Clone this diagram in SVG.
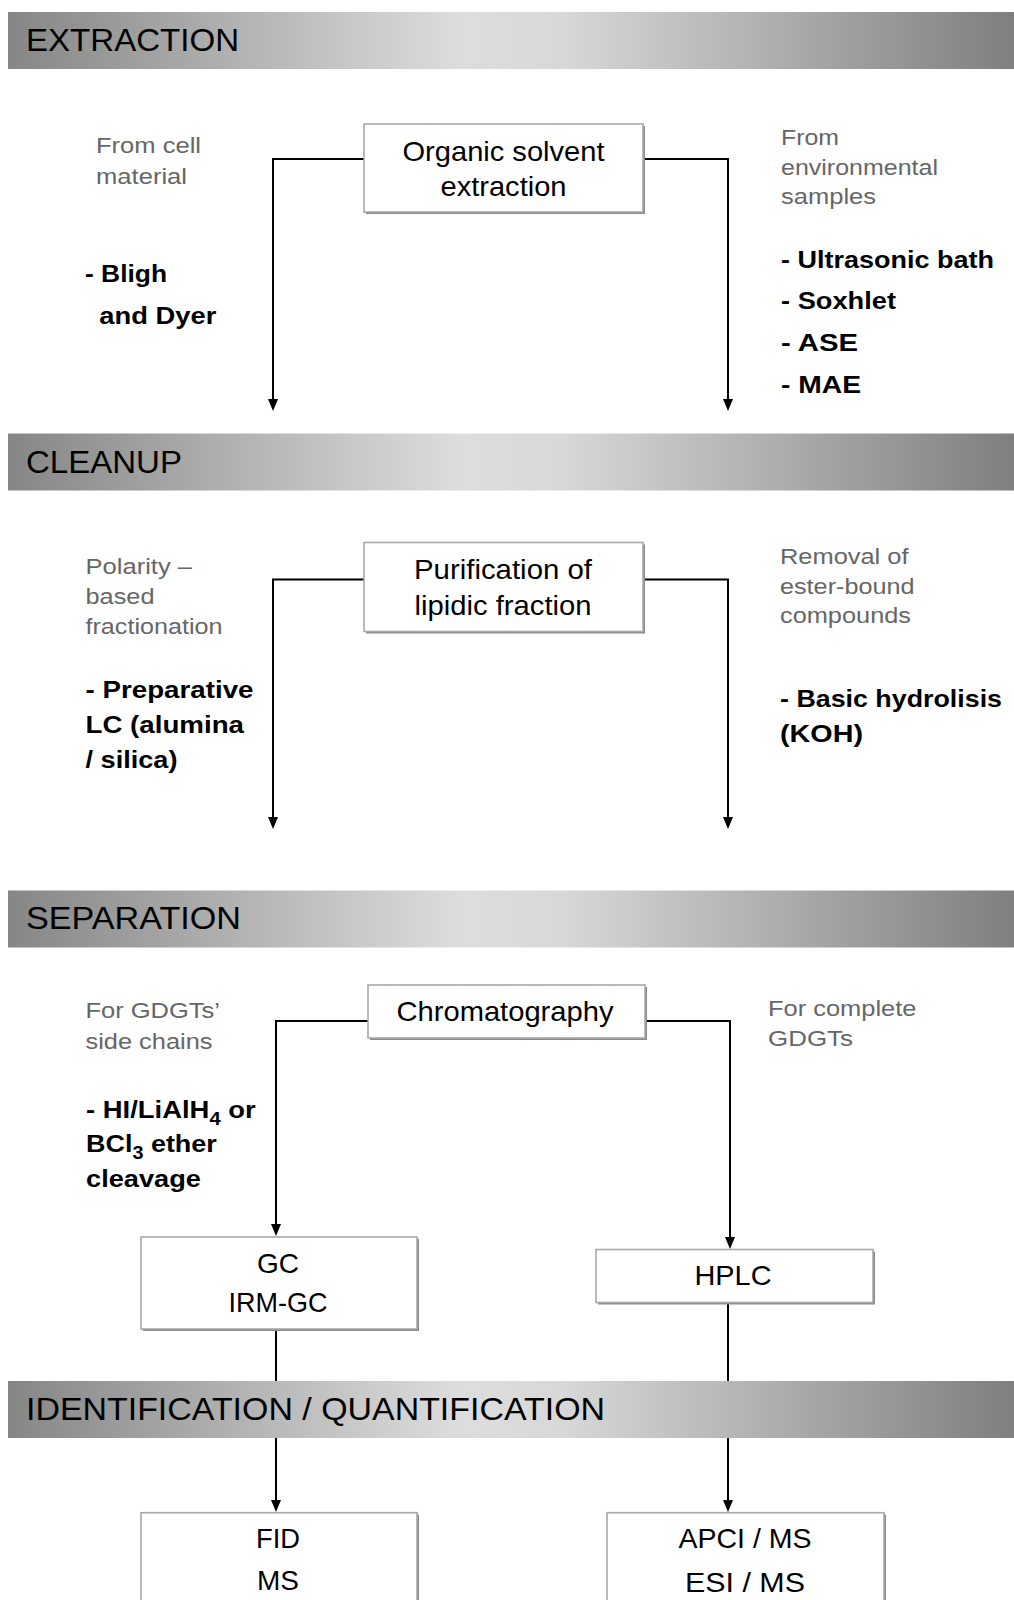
<svg xmlns="http://www.w3.org/2000/svg" width="1014" height="1600" viewBox="0 0 1014 1600">
<style>
text{font-family:"Liberation Sans",Arial,sans-serif}
.hdr{font-size:32px;fill:#000}
.box{fill:#fff;stroke:#a8a8a8;stroke-width:1.6}
.shd{fill:#8a8a8a}
.bt{font-size:27.5px;fill:#000;text-anchor:middle}
.gl{font-size:22.5px;fill:#666}
.bl{font-size:24.5px;font-weight:bold;fill:#000}
.con{fill:none;stroke:#000;stroke-width:2;marker-end:url(#arr)}
</style>
<defs>
<linearGradient id="band" x1="0" y1="0" x2="1" y2="0">
<stop offset="0" stop-color="#868686"/>
<stop offset="0.45" stop-color="#dddddd"/>
<stop offset="0.55" stop-color="#d8d8d8"/>
<stop offset="1" stop-color="#7f7f7f"/>
</linearGradient>
<marker id="arr" markerUnits="userSpaceOnUse" markerWidth="12" markerHeight="10" viewBox="0 0 12 10" refX="6" refY="5" orient="auto">
<path d="M0,0 L12,5 L0,10 z" fill="#000"/>
</marker>
</defs>
<rect width="1014" height="1600" fill="#fff"/>

<g id="connectors">
<path class="con" d="M364,159 H273 V405"/>
<path class="con" d="M643,159 H728 V405"/>
<path class="con" d="M364,579.5 H273 V823"/>
<path class="con" d="M643,579.5 H728 V823"/>
<path class="con" d="M368,1021 H276 V1230"/>
<path class="con" d="M645,1021 H730 V1243"/>
<path class="con" d="M276,1329 V1506"/>
<path class="con" d="M728,1302 V1506"/>
</g>

<g id="band-extraction">
<rect x="8" y="12" width="1006" height="57" fill="url(#band)"/>
<text class="hdr" x="26" y="50.5" textLength="213" lengthAdjust="spacingAndGlyphs">EXTRACTION</text>
</g>
<g id="band-cleanup">
<rect x="8" y="433.5" width="1006" height="57" fill="url(#band)"/>
<text class="hdr" x="26" y="472.5" textLength="156" lengthAdjust="spacingAndGlyphs">CLEANUP</text>
</g>
<g id="band-separation">
<rect x="8" y="890.5" width="1006" height="57" fill="url(#band)"/>
<text class="hdr" x="26" y="929" textLength="215" lengthAdjust="spacingAndGlyphs">SEPARATION</text>
</g>
<g id="band-identification">
<rect x="8" y="1381" width="1006" height="57" fill="url(#band)"/>
<text class="hdr" x="26" y="1420" textLength="579" lengthAdjust="spacingAndGlyphs">IDENTIFICATION / QUANTIFICATION</text>
</g>

<g id="node-organic-solvent">
<rect class="shd" x="366" y="126" width="279" height="88"/>
<rect class="box" x="364" y="124" width="279" height="88"/>
<text class="bt" x="503.5" y="160.5" textLength="202" lengthAdjust="spacingAndGlyphs">Organic solvent</text>
<text class="bt" x="503.5" y="196" textLength="126" lengthAdjust="spacingAndGlyphs">extraction</text>
</g>
<g id="label-cell">
<text class="gl" x="96" y="153" textLength="105" lengthAdjust="spacingAndGlyphs">From cell</text>
<text class="gl" x="96" y="184" textLength="91" lengthAdjust="spacingAndGlyphs">material</text>
<text class="bl" x="85" y="282" textLength="82" lengthAdjust="spacingAndGlyphs">- Bligh</text>
<text class="bl" x="99.3" y="324" textLength="117" lengthAdjust="spacingAndGlyphs">and Dyer</text>
</g>
<g id="label-env">
<text class="gl" x="781" y="145" textLength="58" lengthAdjust="spacingAndGlyphs">From</text>
<text class="gl" x="781" y="174.5" textLength="157" lengthAdjust="spacingAndGlyphs">environmental</text>
<text class="gl" x="781" y="204" textLength="95" lengthAdjust="spacingAndGlyphs">samples</text>
<text class="bl" x="781" y="268" textLength="213" lengthAdjust="spacingAndGlyphs">- Ultrasonic bath</text>
<text class="bl" x="781" y="309" textLength="115" lengthAdjust="spacingAndGlyphs">- Soxhlet</text>
<text class="bl" x="781" y="351" textLength="77" lengthAdjust="spacingAndGlyphs">- ASE</text>
<text class="bl" x="781" y="393" textLength="80" lengthAdjust="spacingAndGlyphs">- MAE</text>
</g>

<g id="node-purification">
<rect class="shd" x="366" y="544.5" width="279" height="89"/>
<rect class="box" x="364" y="542.5" width="279" height="89"/>
<text class="bt" x="503" y="578.5" textLength="178" lengthAdjust="spacingAndGlyphs">Purification of</text>
<text class="bt" x="503" y="614.5" textLength="177" lengthAdjust="spacingAndGlyphs">lipidic fraction</text>
</g>
<g id="label-polarity">
<text class="gl" x="85.5" y="574" textLength="106.5" lengthAdjust="spacingAndGlyphs">Polarity –</text>
<text class="gl" x="85.5" y="604" textLength="69" lengthAdjust="spacingAndGlyphs">based</text>
<text class="gl" x="85.5" y="634" textLength="137" lengthAdjust="spacingAndGlyphs">fractionation</text>
<text class="bl" x="85.5" y="698" textLength="168" lengthAdjust="spacingAndGlyphs">- Preparative</text>
<text class="bl" x="85.5" y="733" textLength="158.5" lengthAdjust="spacingAndGlyphs">LC (alumina</text>
<text class="bl" x="85.5" y="768" textLength="92" lengthAdjust="spacingAndGlyphs">/ silica)</text>
</g>
<g id="label-ester">
<text class="gl" x="780" y="564" textLength="128.5" lengthAdjust="spacingAndGlyphs">Removal of</text>
<text class="gl" x="780" y="594" textLength="134.5" lengthAdjust="spacingAndGlyphs">ester-bound</text>
<text class="gl" x="780" y="623" textLength="131" lengthAdjust="spacingAndGlyphs">compounds</text>
<text class="bl" x="780" y="707" textLength="222" lengthAdjust="spacingAndGlyphs">- Basic hydrolisis</text>
<text class="bl" x="780" y="742" textLength="83" lengthAdjust="spacingAndGlyphs">(KOH)</text>
</g>

<g id="node-chromatography">
<rect class="shd" x="370" y="987" width="277" height="53"/>
<rect class="box" x="368" y="985" width="277" height="53"/>
<text class="bt" x="505" y="1021" textLength="217" lengthAdjust="spacingAndGlyphs">Chromatography</text>
</g>
<g id="label-sidechains">
<text class="gl" x="85.5" y="1018" textLength="134.5" lengthAdjust="spacingAndGlyphs">For GDGTs’</text>
<text class="gl" x="85.5" y="1048.5" textLength="127" lengthAdjust="spacingAndGlyphs">side chains</text>
<text class="bl" transform="translate(86,1118) scale(1.12,1)">- HI/LiAlH<tspan dy="7" font-size="18">4</tspan><tspan dy="-7"> or</tspan></text>
<text class="bl" transform="translate(86,1152) scale(1.1,1)">BCl<tspan dy="7" font-size="18">3</tspan><tspan dy="-7"> ether</tspan></text>
<text class="bl" x="86" y="1187" textLength="115" lengthAdjust="spacingAndGlyphs">cleavage</text>
</g>
<g id="label-complete">
<text class="gl" x="768" y="1015.5" textLength="148.5" lengthAdjust="spacingAndGlyphs">For complete</text>
<text class="gl" x="768" y="1046" textLength="85" lengthAdjust="spacingAndGlyphs">GDGTs</text>
</g>

<g id="node-gc">
<rect class="shd" x="143" y="1239" width="276" height="92"/>
<rect class="box" x="141" y="1237" width="276" height="92"/>
<text class="bt" x="278" y="1273" textLength="42" lengthAdjust="spacingAndGlyphs">GC</text>
<text class="bt" x="278" y="1312" textLength="99" lengthAdjust="spacingAndGlyphs">IRM-GC</text>
</g>
<g id="node-hplc">
<rect class="shd" x="598" y="1251.5" width="277" height="53"/>
<rect class="box" x="596" y="1249.5" width="277" height="53"/>
<text class="bt" x="733" y="1285" textLength="77" lengthAdjust="spacingAndGlyphs">HPLC</text>
</g>
<g id="node-fid">
<rect class="shd" x="143" y="1514.7" width="276" height="120"/>
<rect class="box" x="141" y="1512.7" width="276" height="120"/>
<text class="bt" x="278" y="1548" textLength="44" lengthAdjust="spacingAndGlyphs">FID</text>
<text class="bt" x="278" y="1590" textLength="42" lengthAdjust="spacingAndGlyphs">MS</text>
</g>
<g id="node-apci">
<rect class="shd" x="609" y="1514.7" width="277" height="120"/>
<rect class="box" x="607" y="1512.7" width="277" height="120"/>
<text class="bt" x="745" y="1547.5" textLength="133" lengthAdjust="spacingAndGlyphs">APCI / MS</text>
<text class="bt" x="745" y="1592" textLength="120" lengthAdjust="spacingAndGlyphs">ESI / MS</text>
</g>
</svg>
